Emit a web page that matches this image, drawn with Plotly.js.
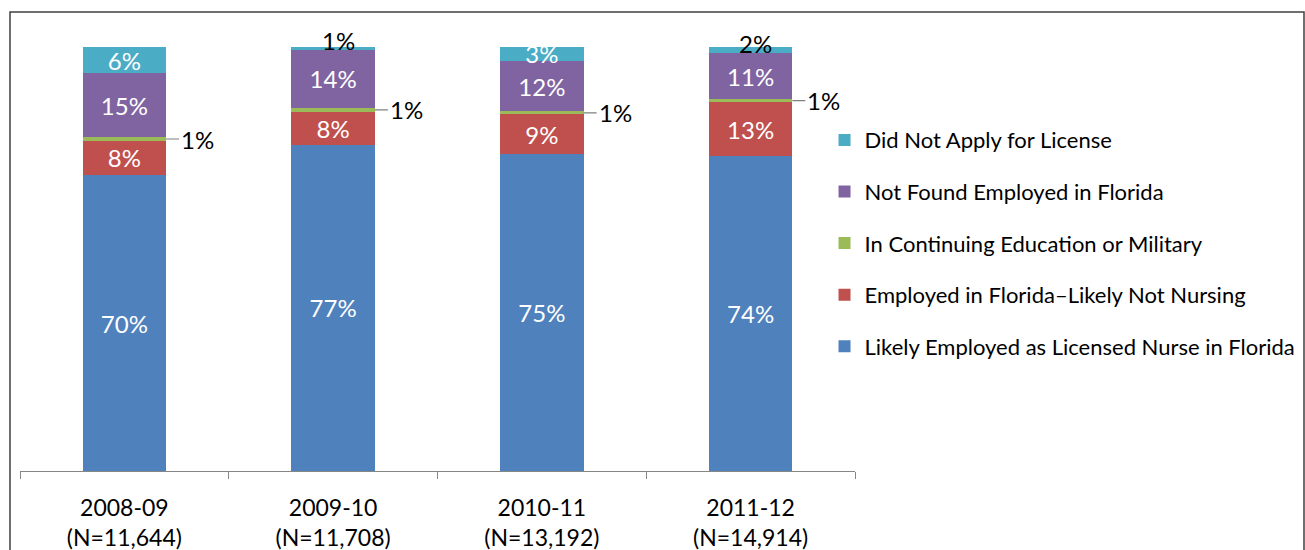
<!DOCTYPE html>
<html>
<head>
<meta charset="utf-8">
<script src="https://cdn.plot.ly/plotly-3.0.1.min.js"></script>
<style>
  html, body { margin: 0; padding: 0; background: #fff; }
  #chart { width: 1305px; height: 550px; }
</style>
</head>
<body>
<div id="chart"></div>
<script>
// ---- data ----
const categories = ['2008-09', '2009-10', '2010-11', '2011-12'];
const groupSizes = ['11,644', '11,708', '13,192', '14,914'];

const seriesNames = [
  'Likely Employed as Licensed Nurse in Florida',
  'Employed in Florida\u2013Likely Not Nursing',
  'In Continuing Education or Military',
  'Not Found Employed in Florida',
  'Did Not Apply for License'
];
const likelyNurse     = [69.8, 77.0, 74.8, 74.3];
const notNursing      = [8.1, 7.7, 9.3, 12.7];
const contEducation   = [0.8, 0.9, 0.7, 0.7];
const notFound        = [15.1, 13.8, 11.9, 10.8];
const didNotApply     = [6.1, 0.5, 3.4, 1.7];

const seriesColors = ['#4F81BD', '#C0504D', '#9BBB59', '#8064A2', '#4BACC6'];

// ---- build ----
const FONT = 'Lato, "Open Sans", sans-serif';
const seriesValues = [likelyNurse, notNursing, contEducation, notFound, didNotApply];
const pct = v => Math.round(v) + '%';
const tickText = categories.map((c, i) => c + '<br>(N=' + groupSizes[i] + ')');

const traces = seriesValues.map((vals, k) => {
  let text;
  if (k === 2) text = vals.map(() => '');                    // labelled with leader lines
  else if (k === 4) text = vals.map(v => v < 3 ? '' : pct(v)); // tiny ones labelled outside
  else text = vals.map(pct);
  return {
    type: 'bar',
    name: seriesNames[k],
    x: categories,
    y: vals,
    text: text,
    textposition: 'inside',
    insidetextanchor: 'middle',
    constraintext: 'none',
    textangle: 0,
    insidetextfont: { family: FONT, size: 24, color: '#ffffff' },
    marker: { color: seriesColors[k], line: { width: 0 } },
    legendgroup: 'g' + k,
    legendrank: (seriesValues.length - k) * 100,
    hoverinfo: 'name+y'
  };
});

// cumulative bottoms
const cum = categories.map(() => 0);
const bottoms = seriesValues.map(vals => {
  const b = cum.slice();
  vals.forEach((v, i) => { cum[i] += v; });
  return b;
});

const annotations = [];
// green segment labels with leader lines
contEducation.forEach((v, i) => {
  annotations.push({
    x: i + 0.2, y: bottoms[2][i] + v / 2, xref: 'x', yref: 'y',
    text: pct(v), showarrow: true, arrowhead: 0, arrowwidth: 1.2, arrowcolor: '#808080',
    ax: 13, ay: 0, xanchor: 'left', yanchor: 'middle', standoff: 0,
    font: { family: FONT, size: 24, color: '#000000' }
  });
});
// small "did not apply" labels drawn above the bar in black
didNotApply.forEach((v, i) => {
  if (v >= 3) return;
  annotations.push({
    x: i, y: bottoms[4][i] + v / 2, xref: 'x', yref: 'y',
    text: pct(v), showarrow: false, xanchor: 'center', yanchor: 'middle',
    xshift: 5, yshift: v < 1 ? 8 : 6,
    font: { family: FONT, size: 24, color: '#000000' }
  });
});

const layout = {
  width: 1305, height: 550,
  margin: { l: 20, r: 450, t: 47, b: 79, autoexpand: false },
  paper_bgcolor: '#ffffff', plot_bgcolor: '#ffffff',
  barmode: 'stack',
  bargap: 0.6,
  showlegend: true,
  legend: {
    x: 0.9635, xanchor: 'left', y: 0.83, yanchor: 'top',
    traceorder: 'grouped',
    tracegroupgap: 20,
    font: { family: FONT, size: 22, color: '#000000' },
    bgcolor: 'rgba(0,0,0,0)'
  },
  xaxis: {
    type: 'category',
    tickmode: 'array', tickvals: categories, ticktext: tickText,
    tickson: 'boundaries', ticks: 'outside', ticklen: 7, tickcolor: '#868686', tickwidth: 1,
    ticklabelstandoff: 16,
    showline: true, linecolor: '#868686', linewidth: 1,
    showgrid: false, zeroline: false,
    tickfont: { family: FONT, size: 23, color: '#000000' },
    fixedrange: true
  },
  yaxis: {
    range: [0, 100], visible: false, showgrid: false, zeroline: false, fixedrange: true
  },
  annotations: annotations,
  shapes: [{
    type: 'rect', xref: 'paper', yref: 'paper',
    x0: (10 - 20) / 835, x1: (1304 - 20) / 835,
    y0: -0.3, y1: (471 - 12) / 424,
    line: { color: '#404040', width: 1.5 }, fillcolor: 'rgba(0,0,0,0)', layer: 'below'
  }],
  font: { family: FONT }
};

Plotly.newPlot('chart', traces, layout, { displayModeBar: false, staticPlot: true });
</script>
</body>
</html>
